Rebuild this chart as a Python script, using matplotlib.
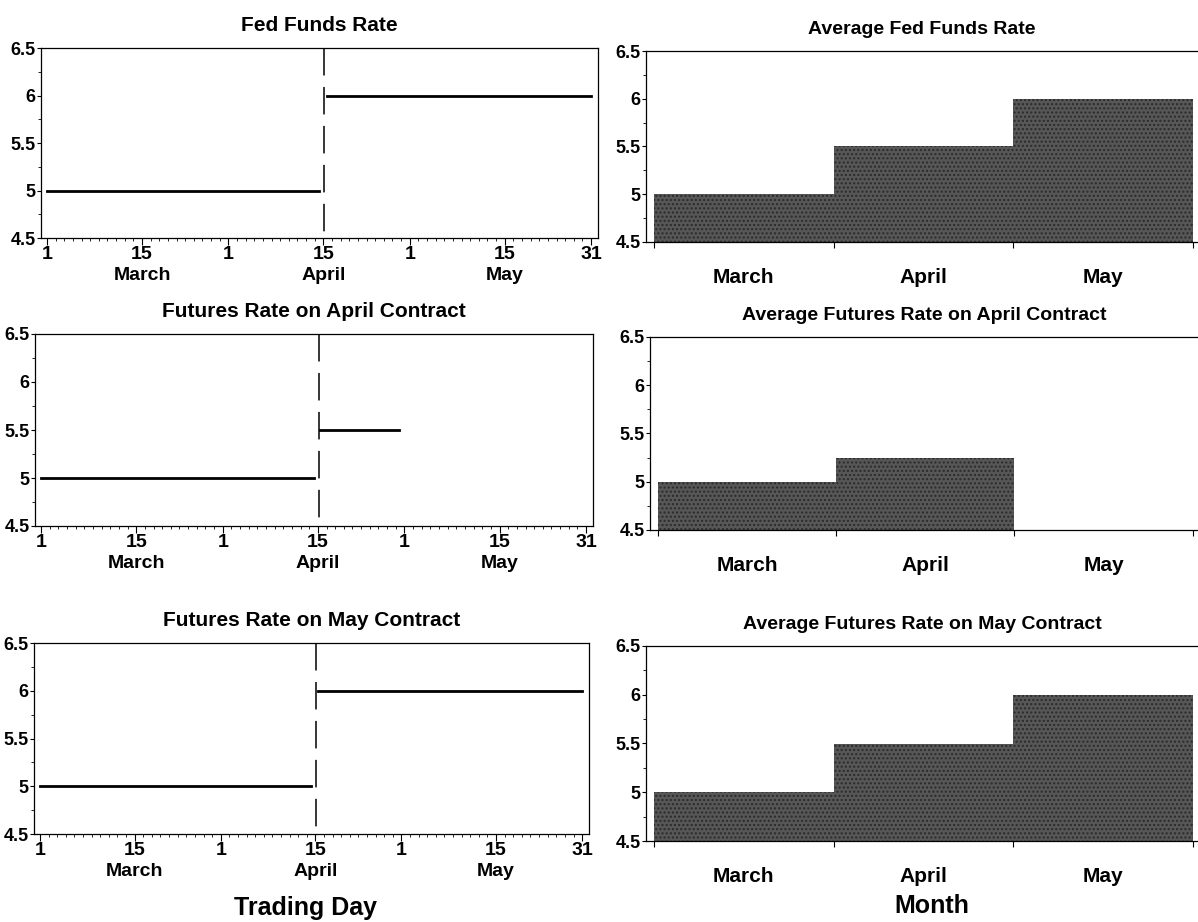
import numpy as np
import matplotlib
matplotlib.use("Agg")
import matplotlib.pyplot as plt

plt.rcParams["font.family"] = ["Liberation Sans", "DejaVu Sans"]
plt.rcParams["font.weight"] = "bold"

# x axis of left panels is the trading day index (Mar 1 = 0 ... May 31 = 63)
tick_days = [0, 11, 21, 32, 42, 53, 63]
tick_labels = ["1", "15\nMarch", "1", "15\nApril", "1", "15\nMay", "31"]
fomc_day = 32.1

# step segments: start day, end day, level
fed_start = [0, 32.4]
fed_end = [31.5, 63]
fed_level = [5.0, 6.0]

april_start = [0, 32.3]
april_end = [31.5, 41.4]
april_level = [5.0, 5.5]

may_start = [0, 32.3]
may_end = [31.5, 63]
may_level = [5.0, 6.0]

months = ["March", "April", "May"]
avg_fed = [5.0, 5.5, 6.0]
avg_april = [5.0, 5.25, None]
avg_may = [5.0, 5.5, 6.0]

W, H = 1198, 922
fig = plt.figure(figsize=(W / 100, H / 100), dpi=100)


def rect(x0, x1, y0, y1):
    return [x0 / W, 1 - y1 / H, (x1 - x0) / W, (y1 - y0) / H]


def style_y(ax):
    ax.set_ylim(4.5, 6.5)
    ax.set_yticks([4.5, 5, 5.5, 6, 6.5])
    ax.set_yticklabels(["4.5", "5", "5.5", "6", "6.5"])
    ax.set_yticks(np.arange(4.5, 6.51, 0.25), minor=True)
    ax.tick_params(axis="y", which="major", direction="out", length=3, width=0.8,
                   labelsize=13, pad=1)
    ax.tick_params(axis="y", which="minor", direction="out", length=2, width=0.6)
    for s in ax.spines.values():
        s.set_linewidth(0.9)


def day_panel(ax, title, starts, ends, levels):
    for x0, x1, y in zip(starts, ends, levels):
        ax.plot([x0, x1], [y, y], color="black", lw=2)
    ax.plot([fomc_day, fomc_day], [6.5, 4.5], color="black", lw=1.1,
            ls=(0, (18, 7.5)))
    ax.set_xlim(-0.7, 63.8)
    ax.set_xticks(tick_days)
    ax.set_xticklabels(tick_labels, fontsize=14, linespacing=1.3)
    ax.set_xticks(np.arange(0, 64, 1), minor=True)
    ax.tick_params(axis="x", which="major", direction="out", length=5, width=0.8, pad=1)
    ax.tick_params(axis="x", which="minor", direction="out", length=2.5, width=0.6)
    style_y(ax)
    ax.set_title(title, fontsize=15, fontweight="bold", pad=12)


def month_panel(ax, title, values):
    for i, v in enumerate(values):
        if v is None:
            continue
        ax.bar(i + 0.5, v - 4.5, bottom=4.5, width=1.0, color="#575757",
               edgecolor="#2a2a2a", linewidth=0, hatch="....")
    ax.set_xlim(-0.045, 3.03)
    ax.set_xticks([0, 1, 2, 3])
    ax.set_xticklabels([])
    ax.set_xticks([0.5, 1.5, 2.5], minor=True)
    ax.set_xticklabels(months, minor=True, fontsize=15)
    ax.tick_params(axis="x", which="major", direction="out", length=4, width=0.8)
    ax.tick_params(axis="x", which="minor", length=0, pad=19)
    ax.spines["right"].set_visible(False)
    style_y(ax)
    ax.set_title(title, fontsize=14, fontweight="bold", pad=12)


a1 = fig.add_axes(rect(41, 598, 48, 238))
day_panel(a1, "Fed Funds Rate", fed_start, fed_end, fed_level)
a2 = fig.add_axes(rect(35, 593, 334, 526))
day_panel(a2, "Futures Rate on April Contract", april_start, april_end, april_level)
a3 = fig.add_axes(rect(34, 589, 643, 834))
day_panel(a3, "Futures Rate on May Contract", may_start, may_end, may_level)

b1 = fig.add_axes(rect(646, 1198, 51, 242))
month_panel(b1, "Average Fed Funds Rate", avg_fed)
b2 = fig.add_axes(rect(650, 1198, 337, 530))
month_panel(b2, "Average Futures Rate on April Contract", avg_april)
b3 = fig.add_axes(rect(646, 1198, 646, 841))
month_panel(b3, "Average Futures Rate on May Contract", avg_may)

fig.text(305 / W, 1 - 908 / H, "Trading Day", fontsize=18, fontweight="bold",
         ha="center", va="center")
fig.text(932 / W, 1 - 906 / H, "Month", fontsize=18, fontweight="bold",
         ha="center", va="center")

fig.savefig("out.png", dpi=100)
